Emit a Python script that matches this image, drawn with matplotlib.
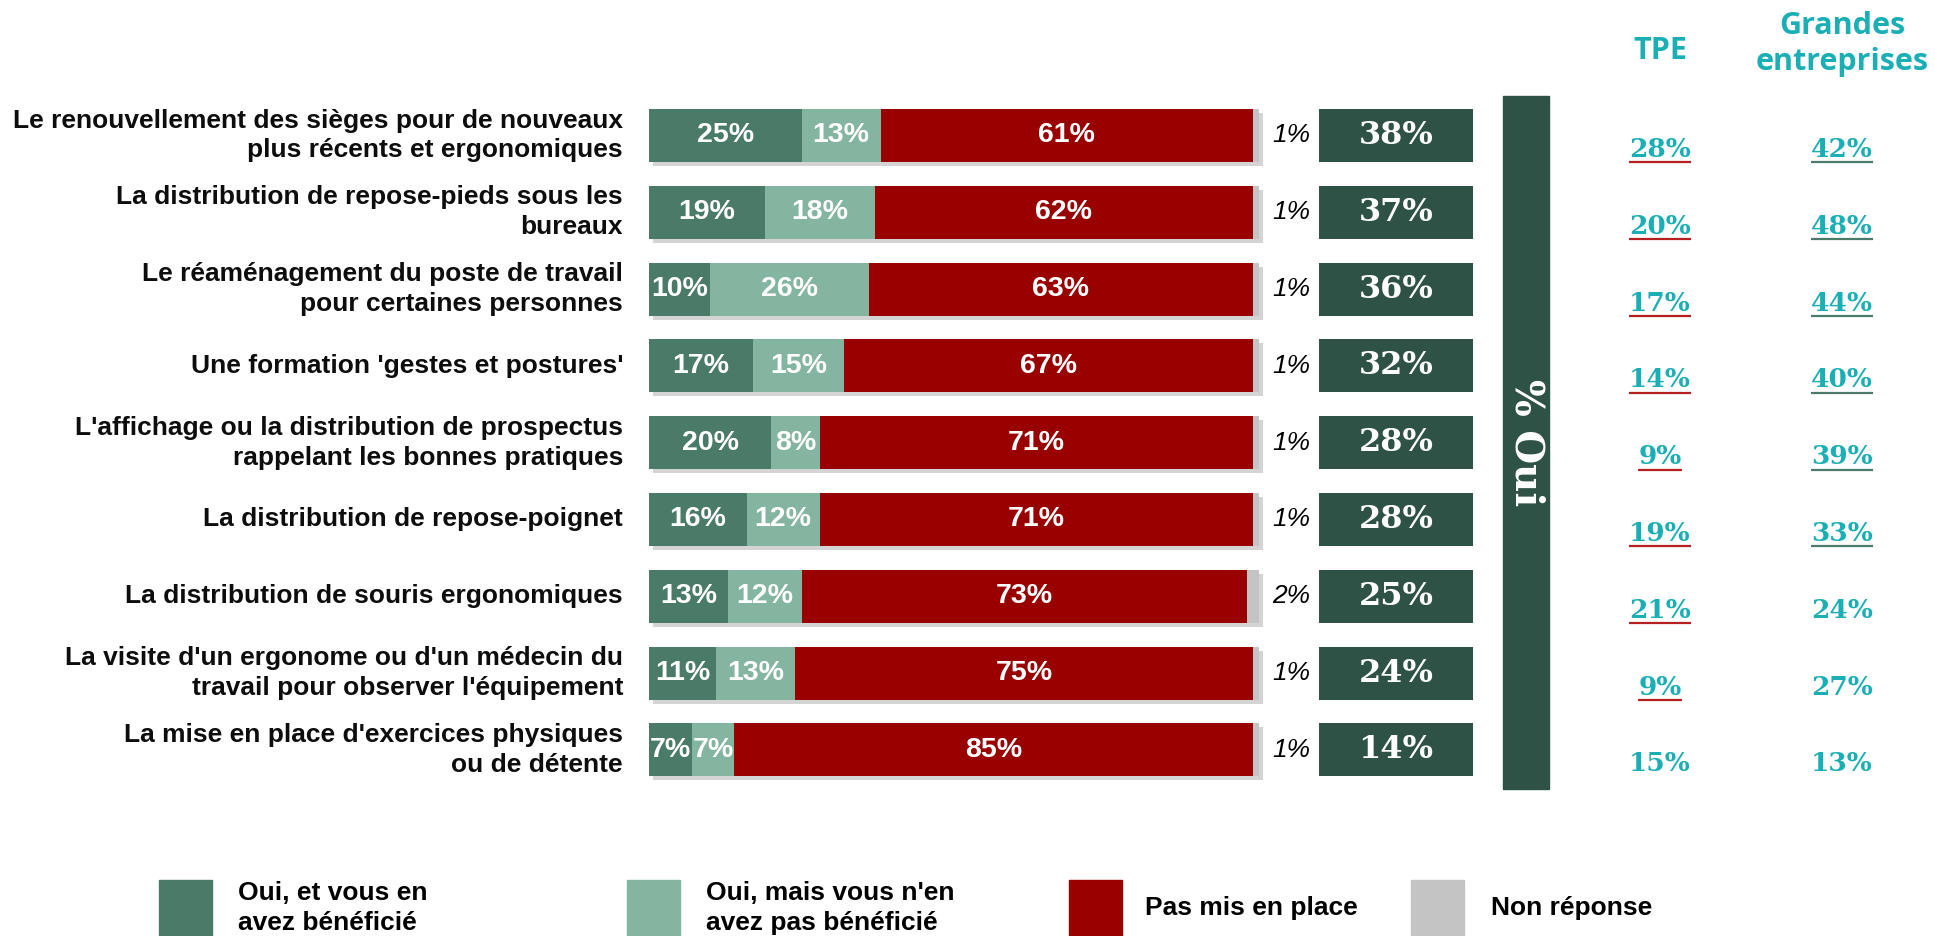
import matplotlib
matplotlib.use("Agg")
import matplotlib.pyplot as plt
from matplotlib.patches import Rectangle
import numpy as np

# ---------------- data ----------------
categories = [
    "Le renouvellement des sièges pour de nouveaux\nplus récents et ergonomiques",
    "La distribution de repose-pieds sous les\nbureaux",
    "Le réaménagement du poste de travail\npour certaines personnes",
    "Une formation 'gestes et postures'",
    "L'affichage ou la distribution de prospectus\nrappelant les bonnes pratiques",
    "La distribution de repose-poignet",
    "La distribution de souris ergonomiques",
    "La visite d'un ergonome ou d'un médecin du\ntravail pour observer l'équipement",
    "La mise en place d'exercices physiques\nou de détente",
]
oui_benef = [25, 19, 10, 17, 20, 16, 13, 11, 7]
oui_pas = [13, 18, 26, 15, 8, 12, 12, 13, 7]
pas_mis = [61, 62, 63, 67, 71, 71, 73, 75, 85]
non_rep = [1, 1, 1, 1, 1, 1, 2, 1, 1]
total_oui = [38, 37, 36, 32, 28, 28, 25, 24, 14]
tpe = [28, 20, 17, 14, 9, 19, 21, 9, 15]
grandes = [42, 48, 44, 40, 39, 33, 24, 27, 13]
tpe_underline = [True, True, True, True, True, True, True, True, False]
ge_underline = [True, True, True, True, True, True, False, False, False]
series_names = ["Oui, et vous en\navez bénéficié", "Oui, mais vous n'en\navez pas bénéficié",
                "Pas mis en place", "Non réponse"]
column_headers = ["TPE", "Grandes\nentreprises"]
oui_title = "% Oui"

# ---------------- styles ----------------
c_dark = "#4A7A68"
c_light = "#84B5A1"
c_red = "#990000"
c_gray = "#C4C4C4"
c_box = "#2F5246"
c_teal = "#1AAFB4"
c_ul_red = "#B41F1F"
c_ul_green = "#4A7A68"
sans = "Liberation Sans"
serif = "DejaVu Serif"

W, H = 1935, 936
fig = plt.figure(figsize=(W / 100, H / 100), dpi=100)
ax = fig.add_axes([0, 0, 1, 1])

X0, X100 = 649, 1259
PXP = (X100 - X0) / 100.0
ROW0, PITCH = 135.5, 76.8


def px2x(p):
    return (p - X0) / PXP


def px2y(p):
    return (p - ROW0) / PITCH


ax.set_xlim(px2x(0), px2x(W))
ax.set_ylim(px2y(H), px2y(0))
ax.axis("off")

n = len(categories)
y = np.arange(n)
bh = 53 / PITCH

# shadow
tot = np.array(oui_benef) + np.array(oui_pas) + np.array(pas_mis) + np.array(non_rep)
ax.barh(y + 4 / PITCH, tot, left=4 / PXP, height=bh, color="#d4d4d4", zorder=1)

left = np.zeros(n)
for vals, col, lab in zip([oui_benef, oui_pas, pas_mis, non_rep],
                          [c_dark, c_light, c_red, c_gray],
                          [True, True, True, False]):
    vals = np.array(vals, dtype=float)
    ax.barh(y, vals, left=left, height=bh, color=col, zorder=2)
    if lab:
        for i in range(n):
            ax.text(left[i] + vals[i] / 2, y[i], f"{int(vals[i])}%", ha="center", va="center",
                    color="white", fontsize=20.5, fontweight="bold", family=sans, zorder=3)
    left = left + vals

# non-réponse labels
for i in range(n):
    ax.text(px2x(1291), y[i], f"{non_rep[i]}%", ha="center", va="center",
            fontsize=19, style="italic", family=sans, color="black")

# category labels
for i, cat in enumerate(categories):
    ax.text(px2x(623), y[i], cat, ha="right", va="center", fontsize=19,
            fontweight="bold", family=sans, color="#0d0d0d", linespacing=1.3)

# total oui boxes
bx0, bx1 = px2x(1319), px2x(1473)
ax.barh(y, [bx1 - bx0] * n, left=bx0, height=bh, color=c_box, zorder=2)
for i in range(n):
    ax.text((bx0 + bx1) / 2, y[i], f"{total_oui[i]}%", ha="center", va="center",
            color="white", fontsize=23, fontweight="bold", family=serif, zorder=3)

# big vertical bar
vx0, vx1 = px2x(1503), px2x(1549)
vy0, vy1 = px2y(96), px2y(789)
ax.add_patch(Rectangle((vx0, vy0), vx1 - vx0, vy1 - vy0, color=c_box, zorder=2))
ax.text((vx0 + vx1) / 2, (vy0 + vy1) / 2, oui_title, rotation=270, ha="center", va="center",
        color="white", fontsize=28, fontweight="bold", family=serif, zorder=3)

# column headers
ax.text(px2x(1660), px2y(51), column_headers[0], ha="center", va="center", color=c_teal,
        fontsize=22, fontweight="bold", family="Open Sans")
ax.text(px2x(1842), px2y(44), column_headers[1], ha="center", va="center", color=c_teal,
        fontsize=22, fontweight="bold", family="Open Sans", linespacing=1.3)

# TPE / GE values
texts = []
for i in range(n):
    t1 = ax.text(px2x(1660), y[i] + 14 / PITCH, f"{tpe[i]}%", ha="center", va="center",
                 color=c_teal, fontsize=19, fontweight="bold", family=serif)
    t2 = ax.text(px2x(1842), y[i] + 14 / PITCH, f"{grandes[i]}%", ha="center", va="center",
                 color=c_teal, fontsize=19, fontweight="bold", family=serif)
    texts.append((t1, t2))

fig.canvas.draw()
renderer = fig.canvas.get_renderer()
inv = ax.transData.inverted()
for i, (t1, t2) in enumerate(texts):
    for t, flag, col in ((t1, tpe_underline[i], c_ul_red), (t2, ge_underline[i], c_ul_green)):
        if flag:
            bb = t.get_window_extent(renderer)
            xa = inv.transform((bb.x0, 0))[0]
            xb = inv.transform((bb.x1, 0))[0]
            yy = y[i] + 27 / PITCH
            ax.plot([xa, xb], [yy, yy], color=col, lw=1.6, solid_capstyle="butt")

# legend
leg_sq = [159, 627, 1069, 1411]
leg_tx = [238, 706, 1145, 1491]
for sx, tx, col, name in zip(leg_sq, leg_tx, [c_dark, c_light, c_red, c_gray], series_names):
    ax.add_patch(Rectangle((px2x(sx), px2y(880)), 53 / PXP, 60 / PITCH, color=col, clip_on=False))
    ax.text(px2x(tx), px2y(908), name, ha="left", va="center", fontsize=19,
            fontweight="bold", family=sans, color="black", linespacing=1.3)

fig.savefig("out.png", dpi=100)
